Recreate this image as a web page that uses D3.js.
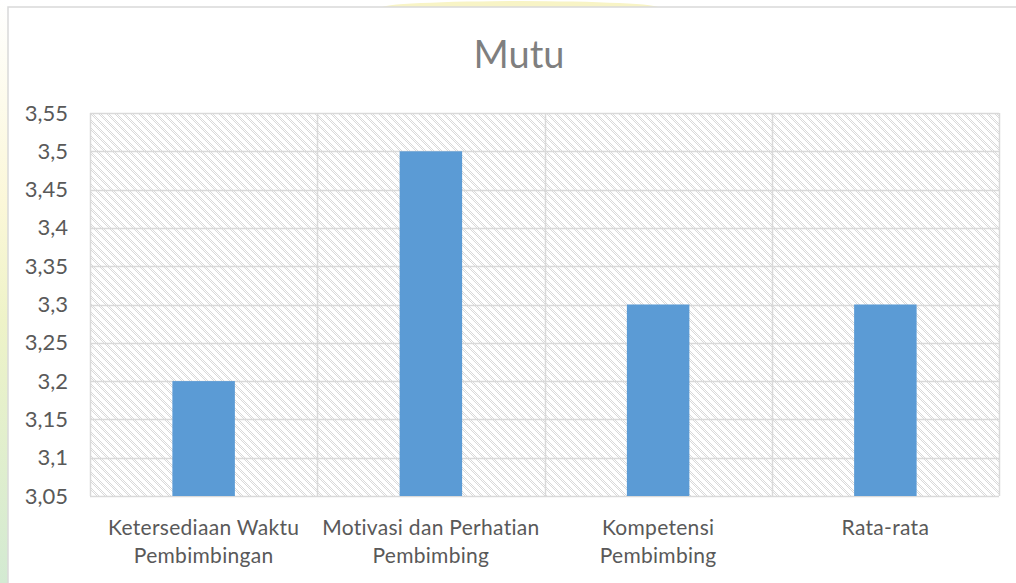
<!DOCTYPE html>
<html>
<head>
<meta charset="utf-8">
<script src="https://cdn.jsdelivr.net/npm/d3@7"></script>
<style>
  html, body { margin: 0; padding: 0; background: #fff; }
  svg { display: block; }
</style>
</head>
<body>
<svg id="chart" width="1016" height="583"></svg>
<script>
// Data
const categories = [
  ["Ketersediaan Waktu", "Pembimbingan"],
  ["Motivasi dan Perhatian", "Pembimbing"],
  ["Kompetensi", "Pembimbing"],
  ["Rata-rata"]
];
const values = [3.2, 3.5, 3.3, 3.3];
const yTicks = [3.05, 3.1, 3.15, 3.2, 3.25, 3.3, 3.35, 3.4, 3.45, 3.5, 3.55];
const title = "Mutu";

const W = 1016, H = 583;
const plot = { left: 90, right: 999, top: 113, bottom: 496 };
const textColor = "#595959";
const gridColor = "#d9d9d9";
const barColor = "#5b9bd5";
const font = "Lato, 'Open Sans', sans-serif";

const svg = d3.select("#chart");
const defs = svg.append("defs");

// faint background tint along the page edges
const edgeGrad = defs.append("linearGradient")
  .attr("id", "edgeTint").attr("x1", 0).attr("y1", 0).attr("x2", 0).attr("y2", 1);
edgeGrad.append("stop").attr("offset", "0%").attr("stop-color", "#ffffff");
edgeGrad.append("stop").attr("offset", "35%").attr("stop-color", "#fbf7d8");
edgeGrad.append("stop").attr("offset", "55%").attr("stop-color", "#eef3c8");
edgeGrad.append("stop").attr("offset", "100%").attr("stop-color", "#d3ead2");
svg.append("rect").attr("x", 0).attr("y", 0).attr("width", 8).attr("height", H)
  .attr("fill", "url(#edgeTint)");
svg.append("ellipse").attr("cx", 520).attr("cy", 8).attr("rx", 140).attr("ry", 7)
  .attr("fill", "#f8f4c6");

// chart frame
svg.append("rect").attr("x", 8).attr("y", 7).attr("width", W + 10).attr("height", H + 10)
  .attr("fill", "#fff").attr("stroke", gridColor).attr("stroke-width", 1.5);

// wide downward-diagonal fill for the plot area
const pat = defs.append("pattern").attr("id", "hatch")
  .attr("patternUnits", "userSpaceOnUse").attr("width", 8).attr("height", 8)
  .attr("x", plot.left).attr("y", plot.top);
pat.append("rect").attr("width", 8).attr("height", 8).attr("fill", "#fff");
for (let j = 0; j < 8; j++) {
  for (let i = 0; i < 8; i++) {
    if (((i - j + 16) % 8) < 3 && (i + j) % 2 === 0) {
      pat.append("rect").attr("x", i).attr("y", j).attr("width", 1).attr("height", 1)
        .attr("fill", "#d9d9d9");
    }
  }
}

const x = d3.scaleBand().domain(d3.range(categories.length))
  .range([plot.left, plot.right]).paddingInner(0).paddingOuter(0);
const y = d3.scaleLinear().domain([3.05, 3.55]).range([plot.bottom, plot.top]);

svg.append("rect").attr("x", plot.left).attr("y", plot.top)
  .attr("width", plot.right - plot.left).attr("height", plot.bottom - plot.top)
  .attr("fill", "url(#hatch)");

// horizontal gridlines
svg.append("g").selectAll("line").data(yTicks).join("line")
  .attr("x1", plot.left).attr("x2", plot.right)
  .attr("y1", d => Math.round(y(d)) + 0.5).attr("y2", d => Math.round(y(d)) + 0.5)
  .attr("stroke", gridColor).attr("stroke-width", 1.5);

// vertical category gridlines
const bounds = d3.range(categories.length + 1).map(i => plot.left + i * x.bandwidth());
svg.append("g").selectAll("line").data(bounds).join("line")
  .attr("x1", d => Math.round(d) + 0.5).attr("x2", d => Math.round(d) + 0.5)
  .attr("y1", plot.top).attr("y2", plot.bottom)
  .attr("stroke", gridColor).attr("stroke-width", 1.5);

// bars
const barW = x.bandwidth() * 0.275;
svg.append("g").selectAll("rect").data(values).join("rect")
  .attr("x", (d, i) => x(i) + x.bandwidth() / 2 - barW / 2)
  .attr("y", d => y(d))
  .attr("width", barW)
  .attr("height", d => y(3.05) - y(d))
  .attr("fill", barColor);

// y axis labels
const fmt = d => d3.format(".2~f")(d).replace(".", ",");
const yAxis = d3.axisLeft(y).tickValues(yTicks).tickFormat(fmt).tickSize(0).tickPadding(0);
const ya = svg.append("g").attr("transform", `translate(68,0)`).call(yAxis);
ya.select(".domain").remove();
ya.selectAll("text").attr("fill", textColor).style("font-family", font).style("font-size", "22px");

// category labels
const xa = svg.append("g");
categories.forEach((lines, i) => {
  const t = xa.append("text")
    .attr("x", x(i) + x.bandwidth() / 2).attr("y", 535)
    .attr("text-anchor", "middle").attr("fill", textColor)
    .style("font-family", font).style("font-size", "21px")
    .style("letter-spacing", "0.3px");
  lines.forEach((ln, k) => {
    t.append("tspan").attr("x", x(i) + x.bandwidth() / 2).attr("dy", k === 0 ? 0 : 28).text(ln);
  });
});

// title
svg.append("text").attr("x", 519).attr("y", 68).attr("text-anchor", "middle")
  .attr("fill", "#7f7f7f").style("font-family", font).style("font-size", "38px")
  .style("font-weight", 400)
  .text(title);
</script>
</body>
</html>
